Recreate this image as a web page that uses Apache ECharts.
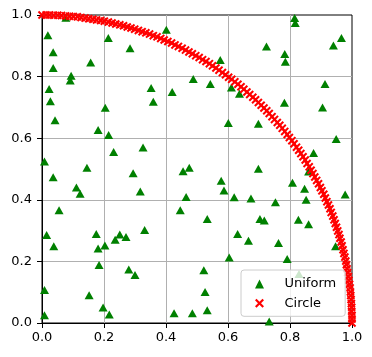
<!DOCTYPE html>
<html>
<head>
<meta charset="utf-8">
<script src="https://cdn.jsdelivr.net/npm/echarts@6/dist/echarts.min.js"></script>
<style>html,body{margin:0;padding:0;background:#fff}#c{width:372px;height:357px}</style>
</head>
<body>
<div id="c"></div>
<script>
// Tick labels
var tickLabels = ['0.0', '0.2', '0.4', '0.6', '0.8', '1.0'];
var seriesNames = ['Uniform', 'Circle'];

// Uniform (green triangles)
var uniformX = [0.077,0.019,0.214,0.284,0.401,0.036,0.157,0.036,0.094,0.091,0.488,0.023,0.352,0.420,0.027,0.359,0.204,0.042,0.181,0.215,0.231,0.326,0.008,0.145,0.455,0.475,0.294,
0.036,0.111,0.123,0.317,0.465,0.446,0.055,0.331,0.015,0.175,0.236,0.251,0.271,0.038,0.181,0.203,0.184,0.280,0.300,0.008,0.152,0.197,0.217,0.008,0.426,0.485,
0.815,0.817,0.966,0.940,0.724,0.783,0.785,0.575,0.543,0.611,0.637,0.913,0.782,0.905,0.601,0.698,0.949,0.876,0.698,0.860,
0.578,0.587,0.808,0.847,0.978,0.620,0.674,0.753,0.852,0.533,0.703,0.717,0.827,0.860,0.631,0.666,0.763,0.947,0.604,0.791,0.522,0.829,0.526,0.533,0.733];
var uniformY = [0.991,0.934,0.925,0.892,0.952,0.879,0.846,0.828,0.803,0.787,0.792,0.760,0.763,0.750,0.720,0.718,0.699,0.658,0.627,0.610,0.555,0.570,0.524,0.504,0.493,0.504,0.486,
0.473,0.440,0.420,0.427,0.409,0.366,0.366,0.302,0.286,0.289,0.270,0.287,0.279,0.249,0.242,0.252,0.188,0.174,0.156,0.107,0.090,0.050,0.028,0.025,0.032,0.032,
0.990,0.974,0.925,0.901,0.898,0.873,0.848,0.854,0.776,0.765,0.744,0.776,0.715,0.700,0.649,0.647,0.597,0.552,0.501,0.492,
0.462,0.430,0.455,0.436,0.417,0.408,0.404,0.392,0.400,0.338,0.338,0.333,0.335,0.321,0.289,0.267,0.260,0.249,0.213,0.208,0.171,0.159,0.101,0.041,0.005];

// Circle (red crosses) on the unit quarter circle
var circleX = [1.000,1.000,1.000,0.999,0.999,0.998,0.997,0.996,0.995,0.994,
0.992,0.990,0.988,0.986,0.984,0.982,0.980,0.977,0.974,0.971,
0.968,0.965,0.961,0.958,0.954,0.950,0.946,0.942,0.938,0.933,
0.929,0.924,0.919,0.914,0.909,0.903,0.898,0.892,0.886,0.880,
0.874,0.868,0.862,0.855,0.849,0.842,0.835,0.828,0.821,0.813,
0.806,0.798,0.791,0.783,0.775,0.767,0.759,0.750,0.742,0.733,
0.725,0.716,0.707,
0.698,0.689,0.680,0.670,0.661,0.651,0.642,0.632,0.622,0.612,
0.602,0.592,0.582,0.571,0.561,0.550,0.540,0.529,0.518,0.507,
0.496,0.485,0.474,0.463,0.452,0.440,0.429,0.418,0.406,0.394,
0.383,0.371,0.359,0.347,0.335,0.323,0.311,0.299,0.287,0.275,
0.263,0.251,0.238,0.226,0.214,0.201,0.189,0.176,0.164,0.151,
0.139,0.126,0.114,0.101,0.089,0.076,0.063,0.051,0.038,0.025,
0.013,0.000];
var circleY = [0.000,0.013,0.025,0.038,0.051,0.063,0.076,0.089,0.101,0.114,
0.126,0.139,0.151,0.164,0.176,0.189,0.201,0.214,0.226,0.238,
0.251,0.263,0.275,0.287,0.299,0.311,0.323,0.335,0.347,0.359,
0.371,0.383,0.394,0.406,0.418,0.429,0.440,0.452,0.463,0.474,
0.485,0.496,0.507,0.518,0.529,0.540,0.550,0.561,0.571,0.582,
0.592,0.602,0.612,0.622,0.632,0.642,0.651,0.661,0.670,0.680,
0.689,0.698,0.707,
0.716,0.725,0.733,0.742,0.750,0.759,0.767,0.775,0.783,0.791,
0.798,0.806,0.813,0.821,0.828,0.835,0.842,0.849,0.855,0.862,
0.868,0.874,0.880,0.886,0.892,0.898,0.903,0.909,0.914,0.919,
0.924,0.929,0.933,0.938,0.942,0.946,0.950,0.954,0.958,0.961,
0.965,0.968,0.971,0.974,0.977,0.980,0.982,0.984,0.986,0.988,
0.990,0.992,0.994,0.995,0.996,0.997,0.998,0.999,0.999,1.000,
1.000,1.000];

function pairs(xs, ys) { var o = []; for (var i = 0; i < xs.length; i++) o.push([xs[i], ys[i]]); return o; }

var CROSS = 'path://M0,1.7 L1.7,0 L5,3.3 L8.3,0 L10,1.7 L6.7,5 L10,8.3 L8.3,10 L5,6.7 L1.7,10 L0,8.3 L3.3,5 Z';
var FONT = 'DejaVu Sans';

function axisCommon(margin) {
  return {
    type: 'value', min: 0, max: 1, interval: 0.2,
    axisLine: { show: true, lineStyle: { color: '#000', width: 1 } },
    axisTick: { show: true, inside: false, length: 5, lineStyle: { color: '#000', width: 1 } },
    axisLabel: { color: '#000', fontFamily: FONT, fontSize: 13, margin: margin,
      formatter: function (v) { return tickLabels[Math.round(v / 0.2)]; } },
    splitLine: { show: true, showMinLine: false, showMaxLine: false, lineStyle: { color: '#b0b0b0', width: 1 } }
  };
}

var chart = echarts.init(document.getElementById('c'), null, { renderer: 'canvas' });
chart.setOption({
  animation: false,
  backgroundColor: '#fff',
  grid: { left: 42, right: 20, top: 15, bottom: 34, show: true, borderColor: '#000', borderWidth: 1, backgroundColor: 'transparent' },
  xAxis: axisCommon(8),
  yAxis: axisCommon(10),
  legend: {
    orient: 'vertical', left: 241, top: 270,
    padding: [7, 9, 6, 14], itemGap: 5.3,
    itemWidth: 9, itemHeight: 9,
    backgroundColor: 'rgba(255,255,255,0.8)', borderColor: '#cccccc', borderWidth: 1, borderRadius: 3,
    textStyle: { color: '#000', fontFamily: FONT, fontSize: 13, lineHeight: 14, padding: [0, 0, 0, 15.5] },
    data: [
      { name: seriesNames[0], icon: 'triangle', itemStyle: { color: '#008000' } },
      { name: seriesNames[1], icon: CROSS, itemStyle: { color: '#ff0000' } }
    ]
  },
  series: [
    { name: seriesNames[0], type: 'scatter', symbol: 'triangle', symbolSize: [9, 8],
      itemStyle: { color: '#008000', opacity: 1 }, data: pairs(uniformX, uniformY) },
    { name: seriesNames[1], type: 'scatter', symbol: CROSS, symbolSize: 8.5, clip: true,
      itemStyle: { color: '#ff0000', opacity: 1 }, data: pairs(circleX, circleY) }
  ]
});
</script>
</body>
</html>
